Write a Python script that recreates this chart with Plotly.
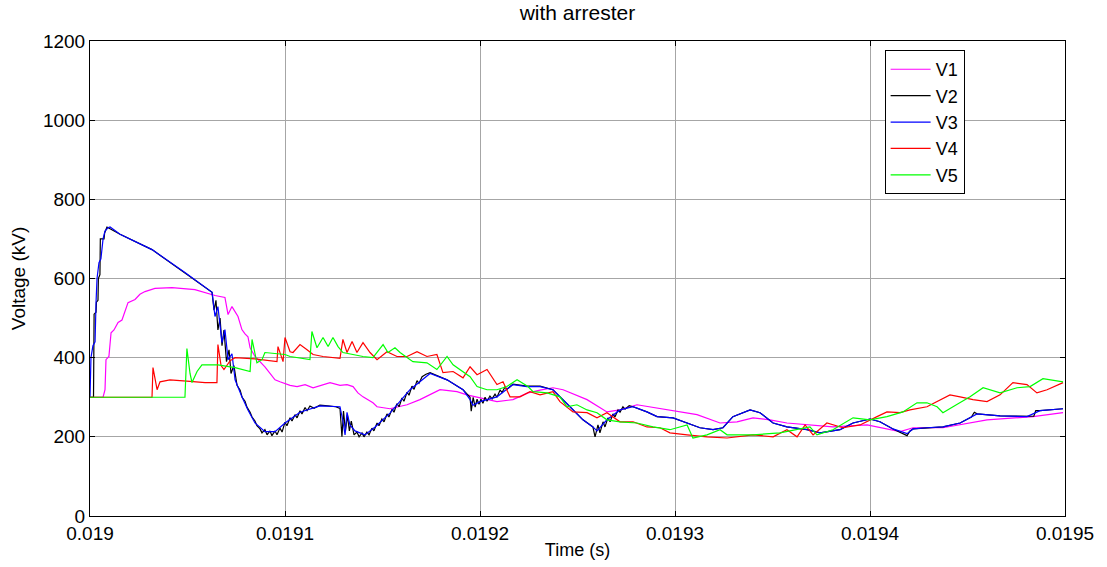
import plotly.graph_objects as go

# time in microseconds after t0 = 0.019 s, voltage in kV
t0 = 0.019

v1_us = [0, 6.7, 7.7, 8.2, 9.7, 10.8, 12.3, 14.4, 16.4, 17.9, 19.5, 23.1, 25.6, 28.2, 33.3,
         42.1, 53.8, 64.1, 69.2, 70.8, 72.8, 75.9, 77.9, 79.5, 81.0, 82.1, 84.6, 89.7, 94.9,
         97.4, 102.6, 106.2, 110.3, 114.4, 117.9, 123.1, 128.2, 131.8, 134.9, 137.4, 140.0,
         145.1, 147.2, 153.8, 162.6, 169.2, 179.5, 188.2, 193.3, 200.0, 208.7, 216.9, 224.6,
         230.8, 237.4, 242.6, 254.9, 265.1, 271.8, 280.5, 297.4, 311.3, 323.1, 331.8, 340.0,
         348.7, 357.4, 367.7, 381.0, 398.5, 415.4, 422.1, 437.4, 460.0, 483.6, 499.0]
v1_kv = [300, 300, 319, 395, 403, 463, 470, 489, 495, 514, 539, 547, 560, 567, 575,
         577, 572, 557, 552, 509, 529, 504, 471, 460, 453, 425, 403, 377, 344,
         339, 330, 327, 332, 324, 330, 337, 330, 332, 327, 311, 301,
         286, 276, 271, 281, 294, 319, 314, 306, 299, 289, 294, 311,
         318, 324, 319, 294, 263, 268, 281, 268, 256, 235, 238, 248,
         243, 235, 230, 225, 230, 213, 223, 223, 243, 251, 261]

v2_us = [0, 1.8, 2.1, 3.1, 3.3, 4.1, 4.3, 5.1, 5.3, 7.2, 7.5, 8.7, 10.5, 15.4, 31.8, 48.7, 62.6,
         63.6, 64.6, 65.6, 66.7, 67.7, 68.7, 70.0, 71.3, 72.3, 73.8, 75.4, 77.0, 78.0, 79.5,
         80.5, 82.1, 83.1, 84.6, 85.6, 87.2, 88.2, 89.7, 90.8, 92.3, 93.3, 94.9, 95.9, 97.4,
         98.5, 100.0, 101.0, 102.6, 103.6, 105.1, 106.2, 107.7, 108.7, 110.3, 111.3, 112.8,
         114.9, 117.9, 122.0, 126.0, 128.2,
         129.2, 130.0, 131.0, 132.0, 133.0, 134.0, 135.4, 136.9, 138.0, 139.5, 140.5, 142.0,
         143.1, 144.6, 145.6, 147.2, 148.2, 149.7, 150.8, 152.3, 153.3, 154.9, 155.9, 157.4,
         158.5, 160.0, 161.0, 162.6, 163.6, 165.1, 166.2, 167.7, 168.7, 170.3, 172.3, 174.4,
         178.0, 183.1, 191.3, 194.9,
         195.5, 196.5, 197.5, 198.5, 199.5, 200.5, 201.5, 202.6, 203.6, 205.1, 206.2, 207.7,
         208.7, 210.3, 211.3, 212.8, 213.8, 216.9, 224.1, 230.8, 237.4, 246.2, 252.8, 257.9,
         259.0, 260.5, 261.5, 263.1, 264.1, 265.6, 266.7, 268.2, 269.2, 270.8, 271.8, 273.3,
         274.4, 276.5, 278.5, 285.6, 290.8, 299.0, 306.2, 312.8, 319.5, 324.6, 329.7, 338.5,
         343.6, 350.3, 357.4, 367.7, 374.4, 384.6, 391.3, 400.0, 405.1, 411.8, 419.0, 420.5,
         422.1, 429.2, 437.4, 446.2, 452.0, 453.5, 454.9, 466.7, 480.5, 484.0, 485.0, 487.2,
         499.0]
v2_kv = [300, 300, 510, 515, 540, 545, 600, 610, 700, 700, 715, 730, 725, 712, 673, 615, 565,
         520, 545, 470, 500, 430, 470, 390, 420, 360, 380, 330, 318, 300, 290,
         275, 262, 250, 240, 228, 220, 210, 218, 205, 215, 203, 215, 205, 222,
         212, 237, 228, 248, 240, 256, 248, 266, 258, 274, 266, 278,
         272, 280, 278, 276, 272,
         200, 265, 215, 255, 215, 240, 205, 212, 200, 210, 200, 212,
         205, 222, 215, 235, 228, 245, 238, 258, 250, 270, 262, 284,
         276, 298, 290, 313, 305, 328, 320, 342, 335, 352, 358, 362,
         355, 344, 319, 300,
         265, 300, 275, 295, 282, 295, 285, 300, 290, 303, 296, 308,
         300, 318, 312, 326, 320, 333, 328, 328, 319, 276, 243, 225,
         200, 230, 210, 238, 225, 248, 238, 258, 250, 268, 262, 276,
         270, 279, 276, 263, 251, 248, 235, 223, 218, 223, 251, 268,
         261, 235, 225, 218, 210, 218, 235, 245, 238, 220, 203, 215,
         220, 223, 225, 235, 250, 262, 258, 253, 251, 252, 266, 266,
         271]

v3_us = [0, 0.5, 1.5, 2.6, 3.1, 3.6, 4.6, 5.6, 6.7, 7.7, 9.2, 10.3, 15.4, 31.8, 48.7, 62.6,
         64.1, 65.6, 67.7, 69.2, 70.8, 72.8, 74.4, 77.9, 81.0, 84.6, 89.7, 94.9, 100.0, 107.7,
         117.9, 128.2, 129.7, 130.8, 131.8, 133.3, 135.9, 141.0, 146.2, 153.8, 164.1, 174.4,
         183.1, 191.3, 194.9, 196.4, 200.0, 208.7, 216.9, 224.1, 230.8, 237.4, 246.2, 252.8,
         257.9, 260.0, 265.1, 271.8, 278.5, 285.6, 290.8, 299.0, 306.2, 312.8, 319.5, 324.6,
         329.7, 338.5, 343.6, 350.3, 357.4, 367.7, 374.4, 384.6, 391.3, 400.0, 405.1, 411.8,
         419.0, 422.1, 429.2, 437.4, 446.2, 454.9, 466.7, 480.5, 487.2, 499.0]
v3_kv = [300, 400, 430, 440, 540, 600, 640, 650, 700, 720, 728, 730, 712, 673, 615, 565,
         504, 529, 438, 471, 395, 410, 344, 301, 268, 235, 213, 213, 235, 262,
         278, 276, 240, 205, 262, 230, 215, 205, 225, 260, 319, 360,
         344, 319, 294, 280, 289, 301, 332, 327, 327, 319, 276, 243,
         225, 215, 243, 268, 276, 263, 251, 248, 235, 223, 218, 223,
         251, 268, 261, 235, 225, 218, 210, 218, 235, 245, 238, 220,
         208, 220, 223, 225, 235, 258, 253, 251, 266, 271]

v4_us = [0, 31.8, 32.3, 33.3, 34.4, 35.9, 41.0, 51.3, 59.0, 65.1, 65.6, 67.2, 68.7, 71.8, 74.4,
         84.6, 92.3, 95.9, 96.4, 99.0, 100.0, 102.6, 104.1, 107.7, 111.3, 114.4, 119.5, 128.2,
         129.7, 131.8, 134.4, 136.9, 140.0, 143.6, 147.2, 152.3, 157.4, 162.6, 167.7, 172.8,
         177.9, 181.0, 186.2, 191.3, 194.9, 198.5, 203.6, 208.7, 211.8, 215.4, 220.5, 225.6,
         230.8, 237.4, 241.0, 247.7, 254.9, 260.0, 265.1, 271.8, 278.5, 285.6, 292.3, 297.4,
         306.2, 316.4, 326.7, 340.0, 350.3, 357.4, 362.6, 366.7, 370.8, 377.9, 386.1, 394.9,
         403.6, 408.7, 415.4, 420.5, 429.2, 435.9, 441.0, 446.2, 452.8, 460.0, 466.7, 473.3,
         480.5, 485.6, 490.8, 499.0]
v4_kv = [300, 300, 375, 345, 319, 339, 344, 340, 337, 337, 433, 380, 370, 392, 400,
         397, 393, 390, 428, 390, 451, 415, 413, 433, 420, 408, 403, 398,
         446, 413, 441, 413, 438, 413, 395, 415, 403, 403, 415, 403,
         408, 362, 365, 349, 377, 357, 370, 332, 339, 301, 301, 314,
         306, 314, 289, 263, 261, 248, 261, 238, 238, 225, 223, 210,
         205, 200, 197, 205, 200, 218, 200, 230, 205, 235, 223, 230,
         251, 263, 261, 268, 276, 294, 306, 301, 294, 289, 306, 337,
         332, 311, 319, 337]

v5_us = [0, 48.7, 49.7, 51.3, 52.3, 54.9, 57.4, 65.6, 74.4, 82.1, 83.1, 85.6, 88.2, 89.7,
         100.0, 102.6, 112.8, 113.8, 116.4, 119.5, 122.1, 124.6, 127.2, 129.7, 140.0, 145.1,
         150.3, 152.8, 156.4, 159.0, 165.6, 172.8, 177.9, 183.1, 186.2, 190.8, 194.9, 198.5,
         203.6, 208.7, 213.8, 219.0, 224.6, 227.2, 234.4, 241.0, 244.6, 249.7, 254.9, 260.0,
         265.1, 271.8, 280.5, 288.7, 297.4, 306.2, 309.2, 316.4, 323.1, 326.7, 340.0, 353.8,
         362.6, 369.2, 372.8, 381.0, 391.3, 400.0, 408.7, 416.9, 424.1, 429.2, 434.4, 437.4,
         444.3, 451.3, 458.0, 466.7, 475.4, 482.1, 488.7, 499.0]
v5_kv = [300, 300, 423, 360, 337, 365, 382, 382, 375, 365, 446, 387, 395, 413,
         408, 403, 395, 466, 425, 451, 428, 451, 428, 413, 403, 400,
         433, 413, 425, 413, 390, 387, 370, 403, 382, 365, 352, 327,
         319, 319, 327, 344, 327, 314, 311, 301, 276, 281, 268, 261,
         243, 238, 235, 225, 218, 230, 197, 205, 218, 205, 205, 210,
         218, 225, 205, 218, 248, 243, 251, 263, 286, 286, 276, 261,
         281, 301, 324, 311, 324, 327, 347, 339]

names = ["V1", "V2", "V3", "V4", "V5"]
colors = ["#ff00ff", "#000000", "#0000ff", "#ff0000", "#00ff00"]
series = [(v1_us, v1_kv), (v2_us, v2_kv), (v3_us, v3_kv), (v4_us, v4_kv), (v5_us, v5_kv)]

x_ticks = [0.019, 0.0191, 0.0192, 0.0193, 0.0194, 0.0195]
x_labels = ["0.019", "0.0191", "0.0192", "0.0193", "0.0194", "0.0195"]
y_ticks = [0, 200, 400, 600, 800, 1000, 1200]

fig = go.Figure()
for name, col, (us, kv) in zip(names, colors, series):
    fig.add_trace(go.Scatter(x=[t0 + u * 1e-6 for u in us], y=kv, mode="lines", name=name,
                             line=dict(color=col, width=1.2)))

font = "Liberation Sans, Arial, sans-serif"
fig.update_layout(
    width=1107, height=567,
    margin=dict(l=90, r=42, t=41, b=51),
    paper_bgcolor="white", plot_bgcolor="white",
    font=dict(family=font, size=19, color="black"),
    title=dict(text="with arrester", x=0.5216, xanchor="center", y=0.978, yanchor="middle",
               font=dict(size=21)),
    legend=dict(x=0.815, y=0.981, xanchor="left", yanchor="top",
                bordercolor="black", borderwidth=1, bgcolor="white",
                font=dict(size=18), itemwidth=40, tracegroupgap=0),
    showlegend=True,
)
fig.update_xaxes(range=[0.019, 0.0195], tickvals=x_ticks, ticktext=x_labels,
                 tickfont=dict(size=19), automargin=False,
                 showgrid=True, gridcolor="#a6a6a6", gridwidth=1,
                 showline=True, linecolor="black", linewidth=1, mirror="allticks",
                 ticks="inside", ticklen=5, tickcolor="black", zeroline=False,
                 title=dict(text="Time (s)", standoff=0, font=dict(size=18)))
fig.update_yaxes(range=[0, 1200], tickvals=y_ticks,
                 tickfont=dict(size=19), automargin=False,
                 showgrid=True, gridcolor="#a6a6a6", gridwidth=1,
                 showline=True, linecolor="black", linewidth=1, mirror="allticks",
                 ticks="inside", ticklen=5, tickcolor="black", zeroline=False,
                 title=dict(text="Voltage (kV)", standoff=12, font=dict(size=19)))

# drop the browser's default 8px body margin so the figure fills the window
fig.write_html("out.html", config={"displayModeBar": False},
               post_script="document.body.style.margin='0';")
